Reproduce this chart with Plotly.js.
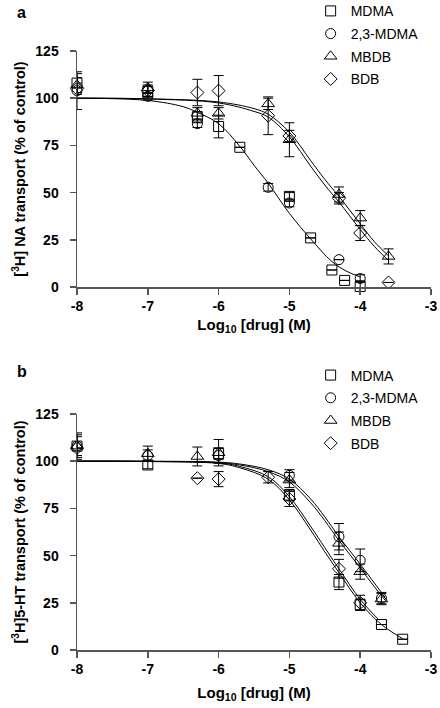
<!DOCTYPE html>
<html><head><meta charset="utf-8">
<script src="https://cdn.plot.ly/plotly-3.0.1.min.js"></script>
<style>html,body{margin:0;padding:0;background:#fff}#chart{width:440px;height:708px}</style>
</head><body><div id="chart"></div>
<script>
// ---------- tick labels ----------
var xTickVals = [-8, -7, -6, -5, -4, -3];
var xTickText = ['-8', '-7', '-6', '-5', '-4', '-3'];
var yTickVals = [0, 25, 50, 75, 100, 125];
var seriesNames = ['MDMA', '2,3-MDMA', 'MBDB', 'BDB'];

// ---------- panel a: [3H] NA transport ----------
var aMDMA_x = [-8, -7, -6.3, -6, -5.7, -5, -4.7, -4.4, -4.22, -4];
var aMDMA_y = [108, 103.5, 90, 85, 74, 48, 26, 9, 3.5, 0.3];
var aMDMA_e = [5, 3, 3, 6, null, 2, null, null, null, 3];

var a23_x = [-8, -7, -6.3, -5.3, -5, -4.3, -4];
var a23_y = [104, 101, 86.5, 52.8, 44.5, 14.5, 4.5];
var a23_e = [10, 2, 2, 2, 2, null, 2];

var aMBDB_x = [-8, -7, -6.3, -6, -5.3, -5, -4.3, -4, -3.6];
var aMBDB_y = [107, 105.5, 92, 92, 97, 78, 49, 36.5, 16.2];
var aMBDB_e = [4, 3, 3, 3, 3, 9, 4, 4, 4];

var aBDB_x = [-8, -7, -6.3, -6, -5.3, -5, -4.3, -4, -3.6];
var aBDB_y = [105, 104, 103, 104, 90.7, 80, 47, 28.6, 2.4];
var aBDB_e = [3, 3, 7, 8, 10, 3, 3, 4, null];

// fitted curves (panel a)
var aFitMDMA_x = [-8, -7, -6.5, -6.3, -6, -5.7, -5.5, -5.3, -5, -4.7, -4.4, -4.2, -4];
var aFitMDMA_y = [100, 98.8, 95.5, 92.5, 86.5, 74.5, 64.5, 55, 39, 25.5, 13.5, 8.5, 5.3];
var aFitMBDB_x = [-8, -7, -6, -5.5, -5.3, -5, -4.7, -4.5, -4.3, -4, -3.8, -3.6];
var aFitMBDB_y = [100, 99.7, 98, 94.5, 91.5, 82, 67, 57, 48, 33.5, 24, 16.5];
var aFitBDB_x = [-8, -7, -6, -5.5, -5.3, -5, -4.7, -4.5, -4.3, -4, -3.8, -3.6];
var aFitBDB_y = [100, 99.6, 97.5, 93, 90, 79.5, 64, 54, 45, 30.5, 21.5, 14];

// ---------- panel b: [3H]5-HT transport ----------
var bMDMA_x = [-8, -7, -6, -5, -4.3, -4, -3.7, -3.4];
var bMDMA_y = [108, 98, 104, 82, 36, 24, 13.5, 5.7];
var bMDMA_e = [6, 2, 3, 3, 4, 3, null, null];

var b23_x = [-8, -7, -6, -5, -4.3, -4, -3.7];
var b23_y = [108, 103, 103, 92.5, 60, 47.5, 27.5];
var b23_e = [5, 3, 4, 3, 7, 6, 3];

var bMBDB_x = [-8, -7, -6.3, -6, -5, -4.3, -4, -3.7];
var bMBDB_y = [108, 104, 102.5, 104.5, 90, 56.5, 41.5, 27];
var bMBDB_e = [7, 4, 5, 7, 4, 6, 4, 3];

var bBDB_x = [-8, -6.3, -6, -5.3, -5, -4.3, -4];
var bBDB_y = [107, 91, 90.5, 91.5, 80, 43, 25];
var bBDB_e = [null, null, 4, 3, 4, 5, 4];

// fitted curves (panel b)
var bFit23_x = [-8, -7, -6, -5.7, -5.3, -5, -4.7, -4.5, -4.3, -4, -3.8, -3.65];
var bFit23_y = [100, 100, 99.5, 98.5, 95.5, 90.5, 80, 70.5, 60, 45.5, 35.5, 28];
var bFitMBDB_x = [-8, -7, -6, -5.7, -5.3, -5, -4.7, -4.5, -4.3, -4, -3.8, -3.65];
var bFitMBDB_y = [100, 99.9, 99.2, 98, 94.5, 89, 78, 68.5, 58, 43.5, 33.5, 26.5];
var bFitMDMA_x = [-8, -7, -6, -5.7, -5.3, -5, -4.7, -4.5, -4.3, -4, -3.7, -3.4];
var bFitMDMA_y = [100, 99.8, 98.8, 96.5, 90.5, 79.5, 63.5, 52, 41, 25, 13.5, 6];
var bFitBDB_x = [-8, -7, -6, -5.7, -5.3, -5, -4.7, -4.5, -4.3, -4, -3.75];
var bFitBDB_y = [100, 99.9, 99.1, 97.2, 91.8, 81.2, 65.5, 54.2, 43, 26.8, 16.5];

// ---------- styling ----------
var FONT = 'Liberation Sans, Arial, Helvetica, sans-serif';
var symbols = ['square-open', 'circle-open', 'triangle-up-open', 'diamond-open'];
var sizes = [10, 10, 11, 10];

function pts(x, y, e, k, xa, ya, leg, show) {
  return {
    type: 'scatter', mode: 'markers', x: x, y: y, xaxis: xa, yaxis: ya,
    name: seriesNames[k], legend: leg, showlegend: show, legendgroup: leg + k,
    cliponaxis: false,
    marker: {symbol: symbols[k], size: sizes[k], color: '#000', line: {color: '#000', width: 1}},
    error_y: {type: 'data', array: e, visible: true, color: '#000', thickness: 1, width: 5}
  };
}
function fit(x, y, xa, ya) {
  return {type: 'scatter', mode: 'lines', x: x, y: y, xaxis: xa, yaxis: ya, showlegend: false,
    hoverinfo: 'skip', cliponaxis: false, line: {color: '#000', width: 1, shape: 'spline', smoothing: 1}};
}

var traces = [
  fit(aFitMDMA_x, aFitMDMA_y, 'x', 'y'),
  fit(aFitMBDB_x, aFitMBDB_y, 'x', 'y'),
  fit(aFitBDB_x, aFitBDB_y, 'x', 'y'),
  pts(aMDMA_x, aMDMA_y, aMDMA_e, 0, 'x', 'y', 'legend', true),
  pts(a23_x, a23_y, a23_e, 1, 'x', 'y', 'legend', true),
  pts(aMBDB_x, aMBDB_y, aMBDB_e, 2, 'x', 'y', 'legend', true),
  pts(aBDB_x, aBDB_y, aBDB_e, 3, 'x', 'y', 'legend', true),
  fit(bFit23_x, bFit23_y, 'x2', 'y2'),
  fit(bFitMBDB_x, bFitMBDB_y, 'x2', 'y2'),
  fit(bFitMDMA_x, bFitMDMA_y, 'x2', 'y2'),
  fit(bFitBDB_x, bFitBDB_y, 'x2', 'y2'),
  pts(bMDMA_x, bMDMA_y, bMDMA_e, 0, 'x2', 'y2', 'legend2', true),
  pts(b23_x, b23_y, b23_e, 1, 'x2', 'y2', 'legend2', true),
  pts(bMBDB_x, bMBDB_y, bMBDB_e, 2, 'x2', 'y2', 'legend2', true),
  pts(bBDB_x, bBDB_y, bBDB_e, 3, 'x2', 'y2', 'legend2', true)
];

function xAxis(anchor, standoff) {
  return {domain: [0, 1], range: [-8, -3], anchor: anchor, tickmode: 'array', tickvals: xTickVals, ticktext: xTickText,
    ticks: 'outside', ticklen: 6, tickwidth: 1.5, tickcolor: '#555', showline: true, linecolor: '#555', linewidth: 1.5,
    showgrid: false, zeroline: false, fixedrange: true, automargin: false,
    tickfont: {family: FONT, size: 14, color: '#000', weight: 'bold'},
    title: {text: 'Log<sub>10</sub> [drug] (M)', font: {family: FONT, size: 15, color: '#000', weight: 'bold'}, standoff: standoff}};
}
function yAxis(anchor, domain, title) {
  return {domain: domain, range: [0, 125], anchor: anchor, tickmode: 'array', tickvals: yTickVals,
    ticks: 'outside', ticklen: 6, tickwidth: 1.5, tickcolor: '#555', showline: true, linecolor: '#555', linewidth: 1.5,
    showgrid: false, zeroline: false, fixedrange: true, automargin: false, ticklabelstandoff: 8,
    tickfont: {family: FONT, size: 14, color: '#000', weight: 'bold'},
    title: {text: title, font: {family: FONT, size: 14.5, color: '#000', weight: 'bold'}, standoff: 6}};
}

var legFont = {family: FONT, size: 14, color: '#000'};
var layout = {
  width: 440, height: 708, paper_bgcolor: '#fff', plot_bgcolor: '#fff',
  margin: {l: 77, r: 9, t: 51, b: 58, autoexpand: false},
  showlegend: true,
  xaxis: xAxis('y', 6),
  yaxis: yAxis('x', [0.606, 1], '[<sup>3</sup>H] NA transport (% of control)'),
  xaxis2: xAxis('y2', 11),
  yaxis2: yAxis('x2', [0, 0.394], '[<sup>3</sup>H]5-HT transport (% of control)'),
  legend: {x: 0.66, y: 1.093, xanchor: 'left', yanchor: 'top', font: legFont, bgcolor: 'rgba(0,0,0,0)', tracegroupgap: 1.5},
  legend2: {x: 0.66, y: 0.485, xanchor: 'left', yanchor: 'top', font: legFont, bgcolor: 'rgba(0,0,0,0)', tracegroupgap: 1.5},
  annotations: [
    {text: 'a', xref: 'paper', yref: 'paper', x: -0.175, y: 1.082, xanchor: 'left', yanchor: 'top', showarrow: false,
      font: {family: FONT, size: 16, color: '#000', weight: 'bold'}},
    {text: 'b', xref: 'paper', yref: 'paper', x: -0.175, y: 0.483, xanchor: 'left', yanchor: 'top', showarrow: false,
      font: {family: FONT, size: 16, color: '#000', weight: 'bold'}}
  ]
};

Plotly.newPlot('chart', traces, layout, {staticPlot: true, displayModeBar: false});
</script></body></html>
